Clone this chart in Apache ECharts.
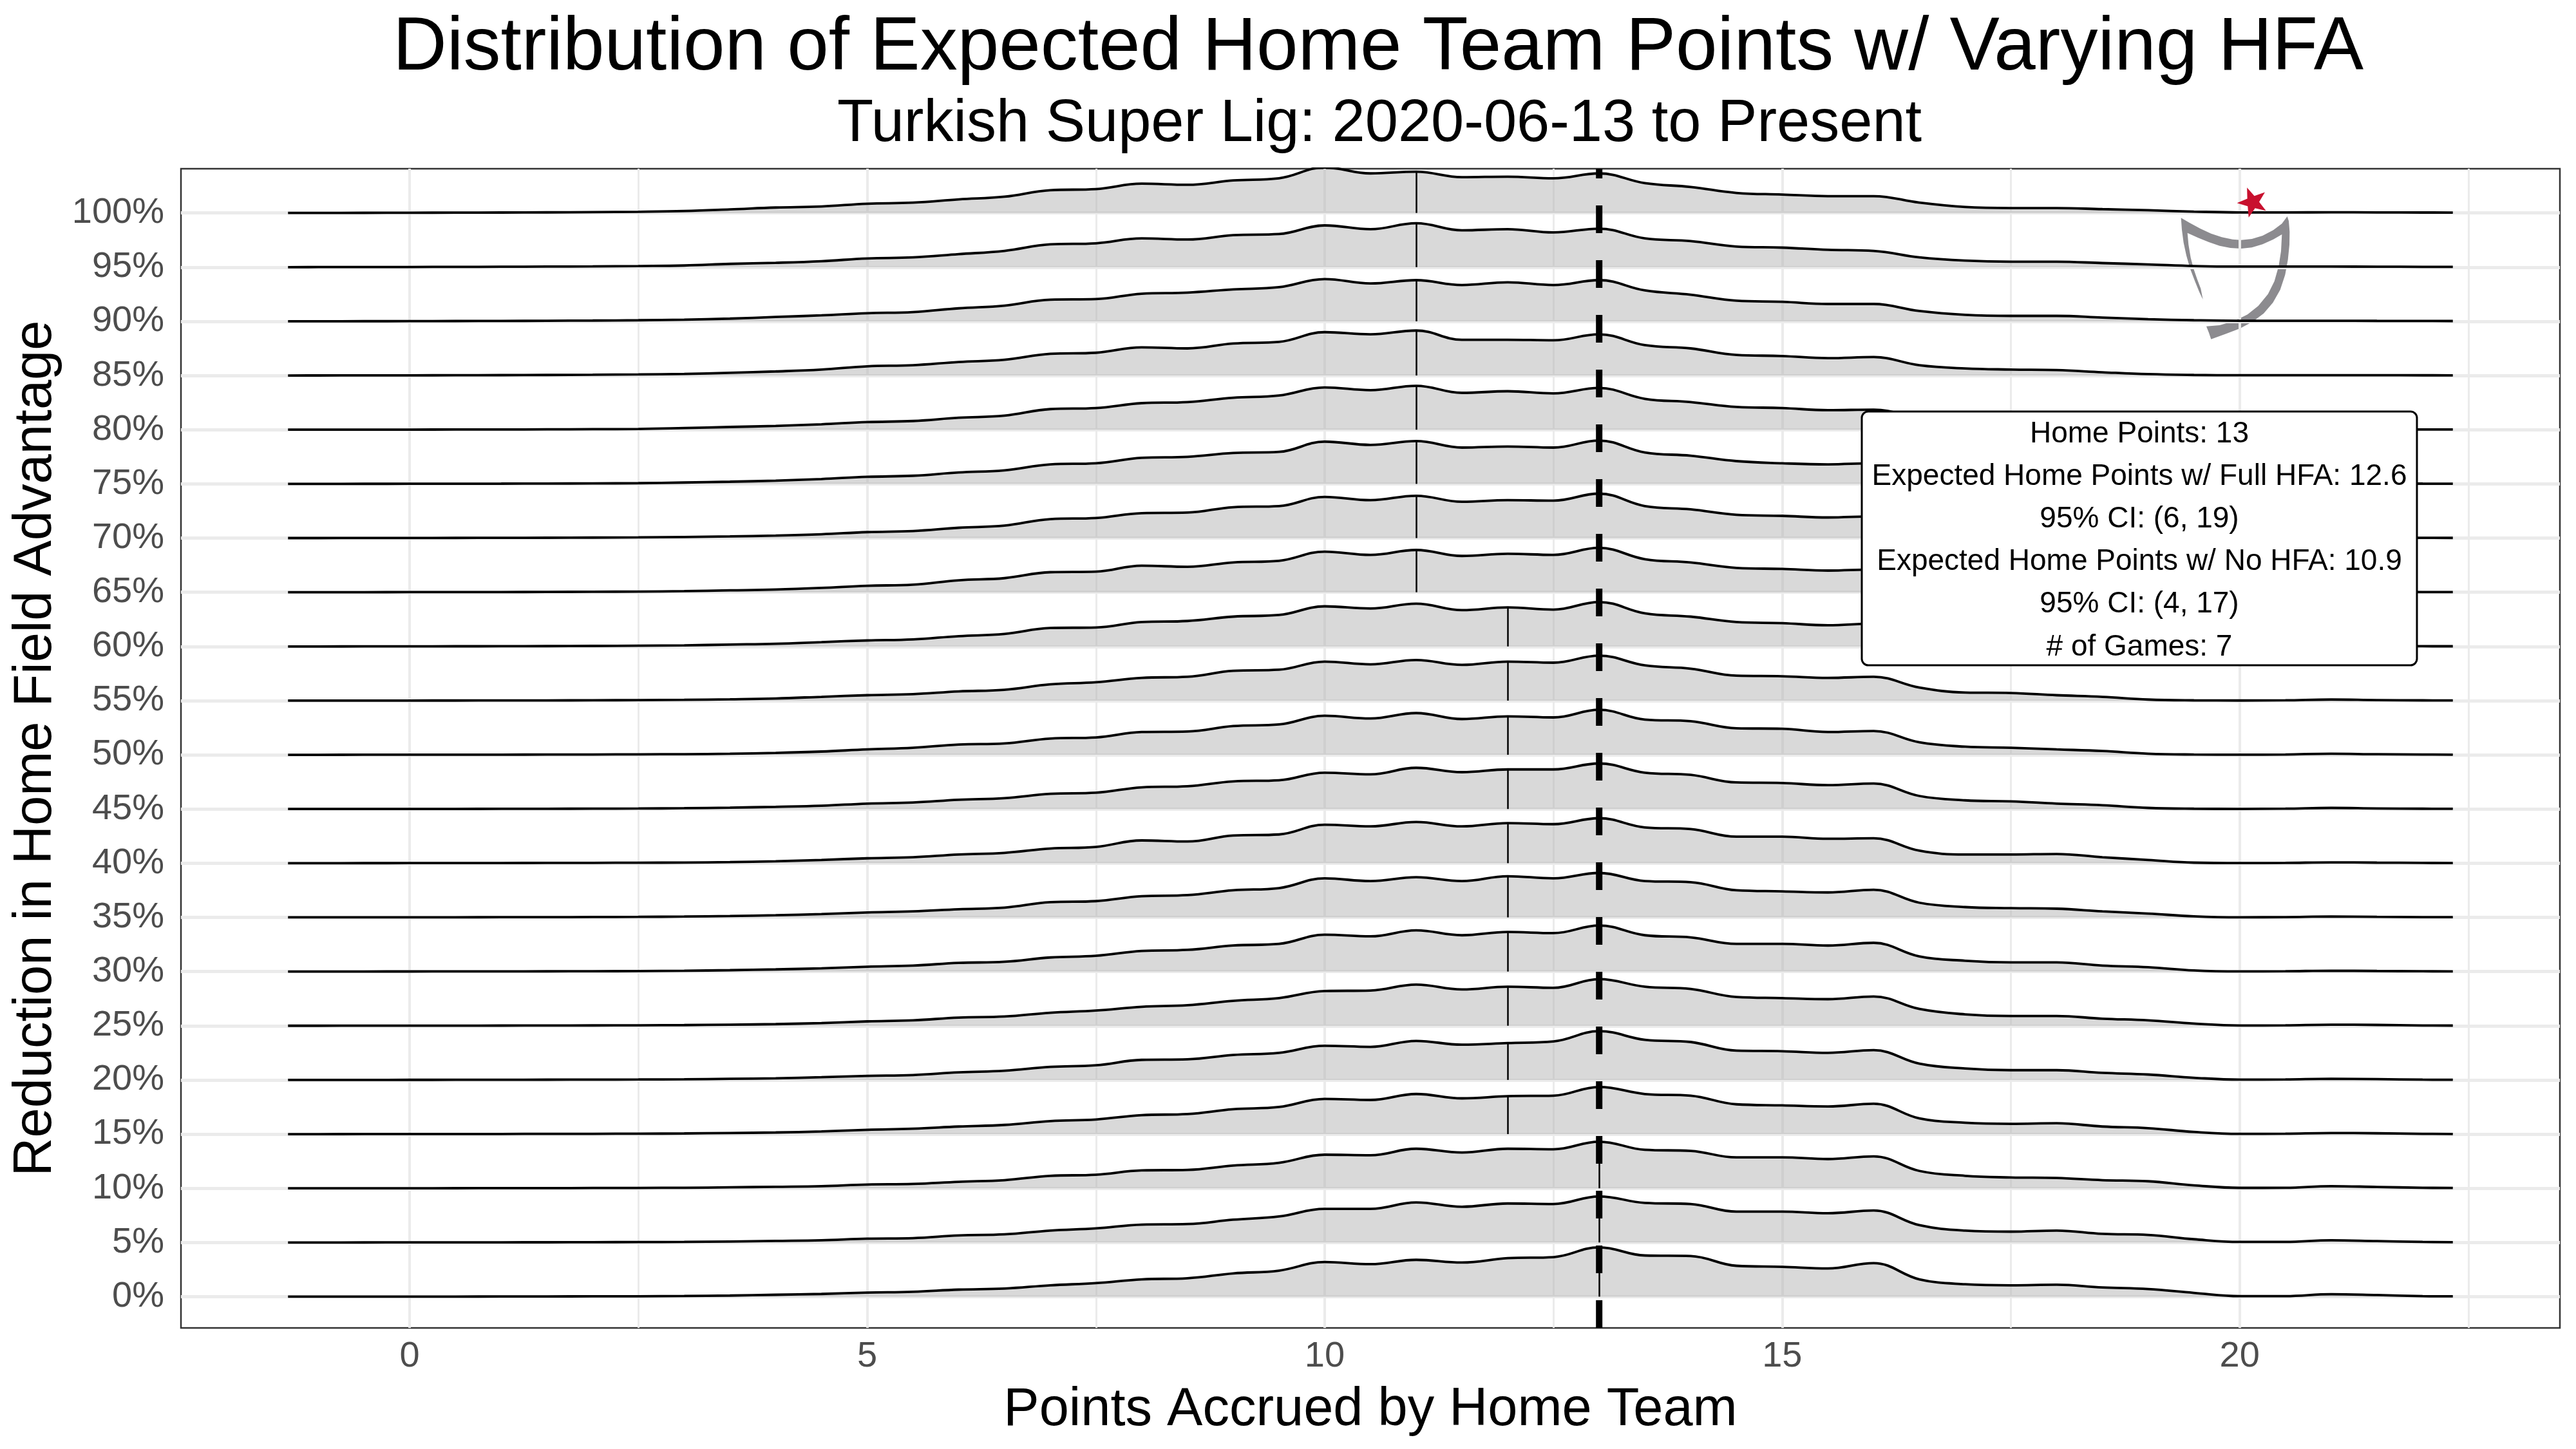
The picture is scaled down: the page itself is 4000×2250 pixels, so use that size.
<!DOCTYPE html>
<html>
<head>
<meta charset="utf-8">
<script src="https://cdn.jsdelivr.net/npm/echarts@6/dist/echarts.min.js"></script>
<style>html,body{margin:0;padding:0;background:#fff}#chart{width:4000px;height:2250px}</style>
</head>
<body>
<div id="chart"></div>
<script>
// ---------------- data ----------------
const ROW_LABELS = ['0%','5%','10%','15%','20%','25%','30%','35%','40%','45%','50%','55%','60%','65%','70%','75%','80%','85%','90%','95%','100%'];
const X_POINTS = [-1.33,-1,-0.5,0,0.5,1,1.5,2,2.5,3,3.5,4,4.5,5,5.5,6,6.5,7,7.5,8,8.5,9,9.5,10,10.5,11,11.5,12,12.5,13,13.5,14,14.5,15,15.5,16,16.5,17,17.5,18,18.5,19,19.5,20,20.5,21,21.5,22,22.33];
const X_TICKS = [0,5,10,15,20];
const X_MINOR = [2.5,7.5,12.5,17.5,22.5];
const MEDIANS = [13,13,13,12,12,12,12,12,12,12,12,12,12,11,11,11,11,11,11,11,11];
const HOME_POINTS = 13;
const NOTE_LINES = ['Home Points: 13','Expected Home Points w/ Full HFA: 12.6','95% CI: (6, 19)','Expected Home Points w/ No HFA: 10.9','95% CI: (4, 17)','# of Games: 7'];

// ridge heights (percent of row spacing) at X_POINTS
const D100 = [0,0.1,0.2,0.4,0.6,0.8,1.1,1.6,2.2, 3.5,6.5,10,12,17,19,25,30,42,44,54,52,60,64, 84,73,76,66,67,64,73,55, 48,37,34,31,31,19,11,9,9,7,5,2.5,1,1,1.2,1,0.8,0.7];
const D95  = [0,0.1,0.2,0.3,0.5,0.7,1,1.4,2, 3,6,8,11,16,18,24,30,42,44,53,51,59,61, 77,70,81,68,70,64,71,53, 48,38,36,32,30,18,12,10,10,7.5,5,2,1,1,1,0.8,0.6,0.5];
const D90  = [0,0.1,0.2,0.3,0.5,0.7,1,1.4,2, 3,5,8,11,15,17,24,29,40,41,51,53,59,63, 78,70,76,67,72,67,76,57, 49,38,36,32,32,19,12,10,10,7,4,2,1,1,1,0.8,0.6,0.5];
const D85  = [0,0.1,0.2,0.3,0.5,0.7,1,1.4,2, 3,5,7.5,11,17,19,25,29,40,42,52,50,59,62, 80,76,83,66,66,65,76,56, 50,38,36,32,34,19,13,11,10,6,2.5,1,0.5,0.5,0.6,0.5,0.4,0.3];
const D80  = [0,0,0.1,0.2,0.3,0.4,0.6,0.9,1.3, 3,5,7,10,14,16,22,26,38,40,49,51,59,63, 78,73,81,68,71,67,77,57, 51,42,40,36,37,21,13,11,10,7,3,1.5,0.5,0.5,0.6,0.5,0.4,0.3];
const D75  = [0,0,0.1,0.2,0.3,0.4,0.6,0.9,1.3, 2.5,4,6,9,13,15,21,25,36,38,48,50,57,59, 78,72,79,67,69,67,80,58, 52,42,38,36,38,22,14,12,11,7,3.5,1.5,0.5,0.6,1,0.7,0.4,0.3];
const D70  = [0,0,0.1,0.2,0.3,0.4,0.6,0.9,1.3, 2,3,4.5,7,11,13,19,23,35,37,46,47,57,59, 76,70,78,67,70,69,82,59, 53,43,41,38,40,23,15,13,11,7,3.5,1.5,0.5,0.6,1,0.7,0.4,0.3];
const D65  = [0,0,0.1,0.2,0.3,0.4,0.6,0.9,1.3, 2,3.5,5,8,12,14,22,26,37,38,49,47,55,58, 75,69,78,67,71,69,82,61, 55,45,43,40,42,24,15,13,11,7,3,1,0.4,0.6,1.2,0.8,0.4,0.3];
const D60  = [0,0,0.1,0.2,0.3,0.4,0.6,0.9,1.3, 2,3.5,5,8,11,13,19,23,34,35,45,47,55,58, 74,70,79,67,72,68,82,61, 55,45,43,39,42,24,15,13,11,7,2.5,0.8,0.3,0.6,1.5,0.8,0.4,0.3];
const D55  = [0,0,0.1,0.15,0.2,0.3,0.45,0.6,1, 1.5,2.5,4,7,10,12,17,20,30,34,42,44,55,57, 72,67,75,66,72,70,83,65, 59,46,45,42,44,24,15,14,10,7,2,0.5,0.2,0.6,2,1,0.5,0.3];
const D50  = [0,0,0.1,0.15,0.2,0.3,0.45,0.6,0.9, 1.2,2,3.5,6,10,13,19,21,30,32,42,43,53,56, 72,67,77,66,71,69,83,65, 62,49,48,42,44,23,15,13,10,7,2,0.5,0.2,0.6,2,1,0.5,0.3];
const D45  = [0,0,0.1,0.15,0.2,0.3,0.45,0.6,0.9, 1.5,2.5,4,6,10,12,17,20,28,30,40,42,51,53, 67,64,76,68,73,73,84,67, 63,49,48,44,47,24,16,14,10,7,2,0.5,0.2,0.6,2,1,0.5,0.3];
const D40  = [0,0,0.1,0.15,0.2,0.3,0.45,0.6,0.9, 1.2,2,3.5,6,9,11,16,19,27,30,42,40,51,53, 71,68,76,68,74,72,83,66, 63,49,49,45,46,23,16,16,17,11,6,1,0.2,0.5,1.5,1,0.5,0.3];
const D35  = [0,0,0.1,0.15,0.2,0.3,0.45,0.6,0.9, 1.5,2.5,4,6,9,11,15,18,28,30,39,41,50,54, 72,67,74,67,76,72,82,67, 65,50,48,46,51,27,19,17,16,11,7,2,0.2,0.5,1.5,1,0.5,0.3];
const D30  = [0,0,0.1,0.15,0.2,0.3,0.45,0.6,0.9, 1.5,2.5,4,6,9,11,16,18,26,29,38,40,48,51, 68,65,76,67,73,71,85,67, 63,51,51,48,53,28,20,17,17,11,8,2,0.2,0.5,1.5,1,0.5,0.3];
const D25  = [0,0,0.1,0.15,0.2,0.3,0.45,0.6,0.8, 1.2,2,3,5,8,10,15,17,24,28,35,38,46,51, 64,65,76,67,72,70,86,72, 68,53,51,49,54,31,21,18,18,13,10,4,0.5,0.8,2,1.5,0.5,0.3];
const D20  = [0,0,0.1,0.15,0.2,0.3,0.45,0.6,0.8, 1.2,2,3,5,7.5,9,14,17,24,27,37,38,46,50, 63,61,72,65,68,71,90,74, 70,54,53,50,55,30,21,18,18,13,10,4,0.5,0.8,2,1.5,0.5,0.3];
const D15  = [0,0,0.1,0.15,0.2,0.3,0.45,0.6,0.8, 1.2,2,3,5,8,10,14,17,24,27,35,37,46,50, 65,63,74,66,70,71,87,74, 71,55,53,51,56,29,21,19,20,14,11,4,0.5,0.8,2,1.5,0.5,0.3];
const D10  = [0,0,0.1,0.15,0.2,0.3,0.4,0.55,0.75, 1,1.8,2.8,4,7,8,12,15,23,25,33,34,42,47, 62,61,73,66,73,72,86,71, 69,57,57,54,59,32,23,20,19,15,13,5.5,0.8,1,4,2.5,1,0.6];
const D05  = [0,0,0.1,0.15,0.2,0.3,0.4,0.55,0.75, 1,1.8,2.8,4,7,8,13,15,22,26,33,34,42,48, 62,62,74,66,72,71,85,73, 71,57,57,54,59,32,22,20,22,16,14,6,1,1,4,2.5,1,0.6];
const D00  = [0,0,0.1,0.15,0.2,0.3,0.45,0.6,0.8, 1.2,2,3.5,5,7.5,9,13,15,21,25,32,34,43,48, 64,60,68,63,71,73,91,76, 75,57,55,52,62,32,23,21,22,17,14,7,1,1,4.5,3,1,0.6];

const ROWS = [D00,D05,D10,D15,D20,D25,D30,D35,D40,D45,D50,D55,D60,D65,D70,D75,D80,D85,D90,D95,D100];

// ---------------- layout / style ----------------
const FONT = "'Liberation Sans', Arial, Helvetica, sans-serif";
const H_SCALE = 0.01;
const Y_MIN = -0.577, Y_MAX = 20.816;
const X_MIN = -2.5, X_MAX = 23.5;
const ROW_IDX = ROW_LABELS.map((_, i) => i);

const chart = echarts.init(document.getElementById('chart'), null, {renderer: 'canvas', width: 4000, height: 2250});

// y axes: index 0 is the visible one; one hidden axis per ridge so that value 0 sits on that ridge's baseline
const yAxes = [{
  type: 'value', min: Y_MIN, max: Y_MAX,
  axisLine: {show: false}, splitLine: {show: false},
  axisTick: {show: true, length: 11, lineStyle: {color: '#333333', width: 2.5}, customValues: ROW_IDX},
  axisLabel: {show: true, margin: 26, fontSize: 56, color: '#4D4D4D', fontFamily: FONT, customValues: ROW_IDX, formatter: v => ROW_LABELS[Math.round(v)]}
}];
for (let i = 1; i < ROWS.length; i++) {
  yAxes.push({type: 'value', min: Y_MIN - i, max: Y_MAX - i, show: false, splitLine: {show: false}});
}

const series = [];
// grid lines (drawn under ridges)
const gridLines = [];
X_TICKS.forEach(v => gridLines.push({xAxis: v, lineStyle: {color: '#EBEBEB', width: 4, type: 'solid'}}));
X_MINOR.forEach(v => gridLines.push({xAxis: v, lineStyle: {color: '#EBEBEB', width: 3, type: 'solid'}}));
ROW_IDX.forEach(v => gridLines.push({yAxis: v, lineStyle: {color: '#EBEBEB', width: 5, type: 'solid'}}));
series.push({
  type: 'line', data: [[-10, -10]], symbol: 'none', lineStyle: {opacity: 0, width: 0}, silent: true, z: 1,
  markLine: {silent: true, z: 1, symbol: ['none', 'none'], label: {show: false}, emphasis: {disabled: true}, data: gridLines}
});

// ridges
ROWS.forEach((row, i) => {
  series.push({
    type: 'line', yAxisIndex: i, data: X_POINTS.map((x, k) => [x, row[k] * H_SCALE]),
    smooth: 0.4, symbol: 'none', showSymbol: false, silent: true, z: 3,
    lineStyle: {color: '#000000', width: 3.8},
    areaStyle: {color: '#B3B3B3', opacity: 0.5, origin: 'auto'}
  });
});

// median lines
series.push({
  type: 'line', data: [[-10, -10]], symbol: 'none', lineStyle: {opacity: 0, width: 0}, silent: true, z: 4,
  markLine: {
    silent: true, z: 6, symbol: ['none', 'none'], label: {show: false}, emphasis: {disabled: true},
    lineStyle: {color: '#000000', width: 2.5, type: 'solid'},
    data: ROWS.map((row, i) => {
      const k = X_POINTS.indexOf(MEDIANS[i]);
      return [{coord: [MEDIANS[i], i]}, {coord: [MEDIANS[i], i + row[k] * H_SCALE]}];
    })
  }
});

// actual home points dashed line
series.push({
  type: 'line', data: [[HOME_POINTS, Y_MIN], [HOME_POINTS, Y_MAX]], symbol: 'none', silent: true, z: 10,
  lineStyle: {color: '#000000', width: 10, type: [43, 42]}
});

// ---------------- logo geometry (decoration) ----------------
const LOGO_RAW = [[170,235],[210,258],[260,285],[310,308],[360,325],[410,335],[450,338],[500,333],[550,318],[600,292],[640,262],[665,228],
  [672,250],[676,300],[675,360],[668,430],[655,500],[632,570],[598,630],[555,680],[505,718],[445,750],[380,775],[310,800],
  [300,770],[288,740],
  [350,735],[420,715],[480,685],[530,645],[575,590],[605,530],[625,460],[636,390],[640,312],
  [600,335],[550,358],[500,373],[450,378],[400,375],[350,365],[300,348],[250,328],[200,305],
  [205,360],[215,420],[228,470],[245,520],[262,565],[272,615],
  [255,580],[235,530],[212,470],[195,410],[182,350],[174,290]];
const logoPts = LOGO_RAW.map(p => [3330 + p[0] / 3, 260 + p[1] / 3]);
const starPts = [];
for (let k = 0; k < 10; k++) {
  const r = k % 2 ? 10 : 24.5;
  const a = -Math.PI / 2 - 0.37 + k * Math.PI / 5;
  starPts.push([3498 + r * Math.cos(a), 314 + r * Math.sin(a)]);
}

const graphic = [
  {type: 'text', x: 2140, y: 76, z: 50, style: {text: 'Distribution of Expected Home Team Points w/ Varying HFA', fontSize: 116, fontFamily: FONT, fill: '#000', textAlign: 'center', textVerticalAlign: 'middle'}},
  {type: 'text', x: 2142, y: 194, z: 50, style: {text: 'Turkish Super Lig: 2020-06-13 to Present', fontSize: 92, fontFamily: FONT, fill: '#000', textAlign: 'center', textVerticalAlign: 'middle'}},
  {type: 'text', x: 2128, y: 2190, z: 50, style: {text: 'Points Accrued by Home Team', fontSize: 83, fontFamily: FONT, fill: '#000', textAlign: 'center', textVerticalAlign: 'middle'}},
  {type: 'text', x: 56, y: 1162, rotation: Math.PI / 2, z: 50, style: {text: 'Reduction in Home Field Advantage', fontSize: 83, fontFamily: FONT, fill: '#000', textAlign: 'center', textVerticalAlign: 'middle'}},
  {type: 'polygon', z: 1, shape: {points: logoPts}, style: {fill: '#8C8B8F', stroke: null}},
  {type: 'polygon', z: 60, shape: {points: starPts}, style: {fill: '#C8102E', stroke: null}},
  {type: 'rect', z: 80, shape: {x: 2891, y: 639, width: 862, height: 394, r: 10}, style: {fill: '#FFFFFF', stroke: '#000000', lineWidth: 3}}
];
const NOTE_Y0 = 674, NOTE_DY = 66.2;
NOTE_LINES.forEach((t, j) => {
  graphic.push({type: 'text', x: 3322, y: NOTE_Y0 + j * NOTE_DY, z: 81, style: {text: t, fontSize: 46, fontFamily: FONT, fill: '#000', textAlign: 'center', textVerticalAlign: 'middle'}});
});

chart.setOption({
  animation: false,
  backgroundColor: '#FFFFFF',
  textStyle: {fontFamily: FONT},
  grid: {left: 281, right: 25, top: 262, bottom: 188, show: true, borderColor: '#333333', borderWidth: 2.5, backgroundColor: 'transparent', containLabel: false, outerBoundsMode: 'none'},
  xAxis: {
    type: 'value', min: X_MIN, max: X_MAX,
    axisLine: {show: false}, splitLine: {show: false}, minorSplitLine: {show: false},
    axisTick: {show: true, length: 13, lineStyle: {color: '#333333', width: 2.5}, customValues: X_TICKS},
    axisLabel: {show: true, margin: 17, fontSize: 56, color: '#4D4D4D', fontFamily: FONT, customValues: X_TICKS, formatter: v => String(v)}
  },
  yAxis: yAxes,
  series: series,
  graphic: graphic
});
</script>
</body>
</html>
